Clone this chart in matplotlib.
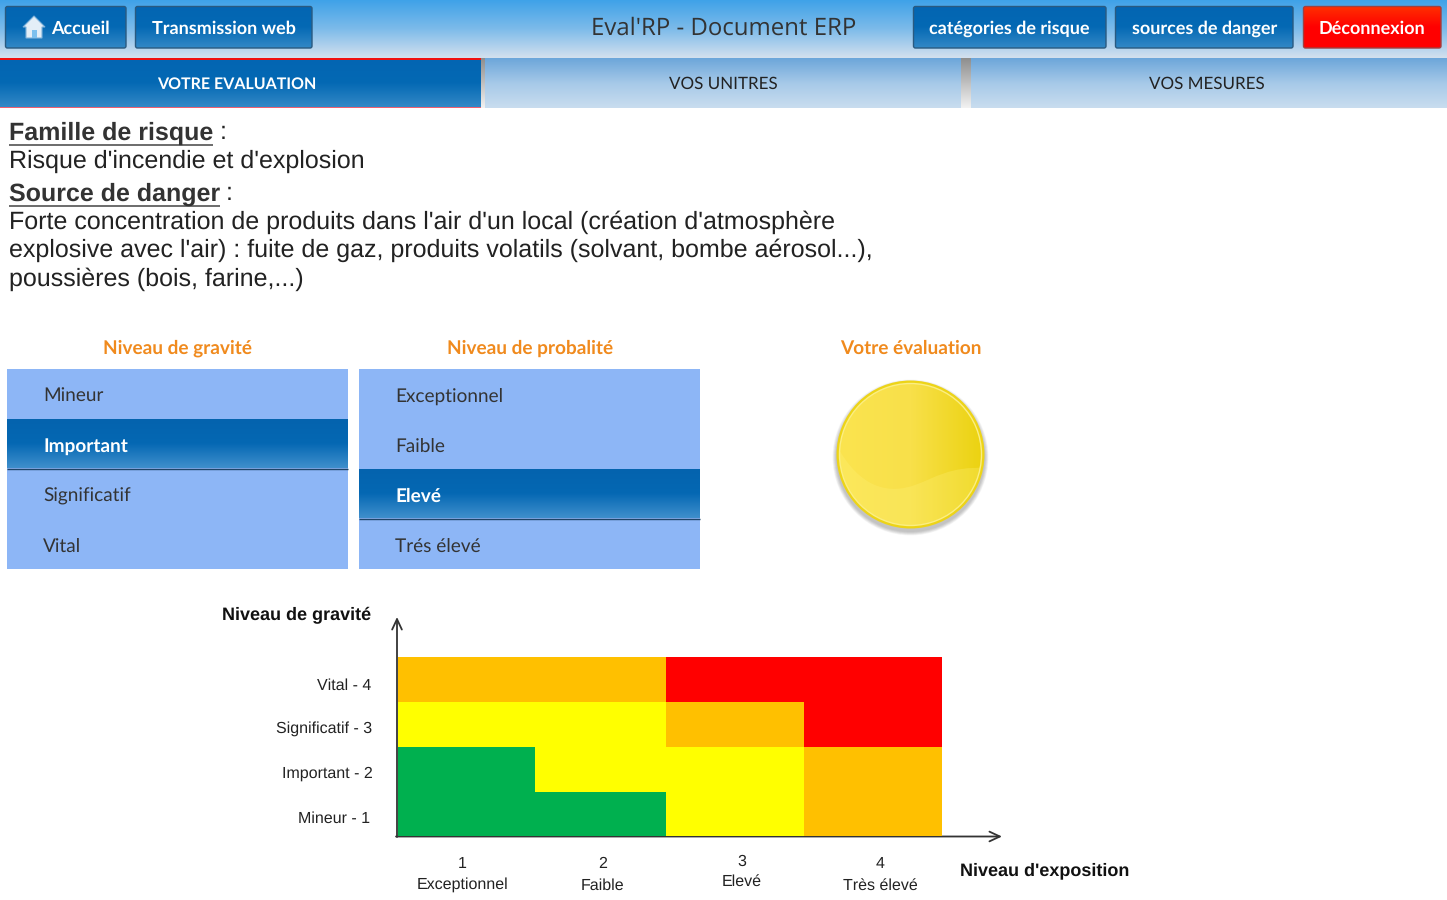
import numpy as np
import matplotlib
matplotlib.use("Agg")
import matplotlib.pyplot as plt
from matplotlib.colors import ListedColormap, LinearSegmentedColormap
from matplotlib.patches import Rectangle, FancyBboxPatch, Circle, Polygon, PathPatch
from matplotlib.path import Path

# ---- data
nav_left = ["Accueil", "Transmission web"]
nav_right = ["catégories de risque", "sources de danger", "Déconnexion"]
page_title = "Eval'RP - Document ERP"
tabs = ["VOTRE EVALUATION", "VOS UNITRES", "VOS MESURES"]
gravity_options = ["Mineur", "Important", "Significatif", "Vital"]
gravity_selected = "Important"
probability_options = ["Exceptionnel", "Faible", "Elevé", "Trés élevé"]
probability_selected = "Elevé"
y_labels = ["Mineur - 1", "Important - 2", "Significatif - 3", "Vital - 4"]
x_numbers = ["1", "2", "3", "4"]
x_names = ["Exceptionnel", "Faible", "Elevé", "Très élevé"]
# risk level per cell, rows from Mineur to Vital, columns from Exceptionnel to Très élevé
risk = [[0, 0, 1, 2],
        [0, 1, 1, 2],
        [1, 1, 2, 3],
        [2, 2, 3, 3]]
risk_colors = ["#00B04F", "#FFFF00", "#FFC000", "#FF0000"]

UI = ["Lato", "DejaVu Sans"]
plt.rcParams["font.family"] = ["Open Sans", "DejaVu Sans"]
plt.rcParams["text.hinting"] = "no_hinting"
plt.rcParams["text.hinting_factor"] = 1
BODY = ["Liberation Sans", "DejaVu Sans"]

fig = plt.figure(figsize=(14.47, 9.0), dpi=100)
bg = fig.add_axes([0, 0, 1, 1])
bg.set_xlim(0, 1447)
bg.set_ylim(900, 0)
bg.axis("off")


def grad(ax, x0, x1, y0, y1, stops, clip=None, z=1, horizontal=False):
    cm = LinearSegmentedColormap.from_list("g", stops)
    g = np.linspace(0, 1, 128)
    g = g[None, :] if horizontal else g[:, None]
    im = ax.imshow(g, cmap=cm, extent=(x0, x1, y1, y0), aspect="auto", zorder=z,
                   vmin=0, vmax=1, interpolation="bilinear")
    if clip is not None:
        im.set_clip_path(clip)
    return im


# header band
grad(bg, 0, 1447, 0, 58, ["#3FA2E8", "#7DBBEA", "#D3E0EE"])
BLUE = ["#0365B2", "#0469B4", "#3388C6"]


def button(x0, x1, label, stops=BLUE, edge="#2A5A80", tx=None):
    y0, y1 = 6.5, 48
    p = FancyBboxPatch((x0, y0), x1 - x0, y1 - y0, boxstyle="round,pad=0,rounding_size=2",
                       fc="none", ec=edge, lw=1.0, zorder=3)
    bg.add_patch(p)
    grad(bg, x0, x1, y0, y1, stops, clip=p, z=2)
    bg.text(tx if tx else (x0 + x1) / 2, 28.5, label, color="white", fontsize=12.8, family=UI,
            fontweight="bold", ha="center", va="center", zorder=4)


button(5.5, 126, nav_left[0], tx=80)
button(135.5, 312, nav_left[1])
button(913.5, 1106, nav_right[0])
button(1115.5, 1293, nav_right[1])
button(1303.5, 1441, nav_right[2], stops=["#FF3000", "#FF0000", "#FF0000"], edge="#A04040")

# home icon
bg.add_patch(Polygon([(23, 27), (34, 16), (45, 27), (42, 27), (42, 38), (26, 38), (26, 27)],
                     closed=True, fc="#E3EEF7", ec="#7FB2DA", lw=0.8, zorder=5))
bg.add_patch(Rectangle((31.5, 30), 5, 8, fc="#7CC0EE", ec="none", zorder=6))

bg.text(723.5, 29, page_title, color="#333333", fontsize=16.95, ha="center", va="center", zorder=4)

# tabs
grad(bg, 0, 481, 59, 107, BLUE)
grad(bg, 481, 961, 58, 108, ["#6CA6DA", "#A6C9E8", "#C9DDEF"])
grad(bg, 961, 1447, 58, 108, ["#6CA6DA", "#A6C9E8", "#C9DDEF"])
grad(bg, 481, 485, 58, 108, ["#8E8E8E", "#F2F2F2"], z=2)
grad(bg, 961, 971, 58, 108, ["#8E8E8E", "#F2F2F2"], z=2)
bg.add_patch(Rectangle((0, 58), 481, 2, fc="#F01010", ec="none", zorder=3))
bg.add_patch(Rectangle((0, 106.5), 481, 1.5, fc="#F06070", ec="none", zorder=3))
for cx, lab, col, w, fs in zip((237, 723, 1207), tabs, ("white", "#222222", "#222222"),
                               ("bold", "normal", "normal"), (11.2, 11.95, 11.95)):
    bg.text(cx, 84.5, lab, color=col, fontsize=fs, fontweight=w, family=UI, ha="center", va="center", zorder=4)

# text block
TXT = "#222222"
def underlined(y, head, rest):
    t = bg.text(9, y, head, fontsize=18, fontweight="bold", family=BODY, color="#333333", va="center")
    r = t.get_window_extent(fig.canvas.get_renderer())
    w = r.width
    bg.plot([9, 9 + w], [y + 12, y + 12], color="#444444", lw=1.1, solid_capstyle="butt")
    bg.text(9 + w + 6, y, rest, fontsize=18, family=BODY, color=TXT, va="center")


underlined(133, "Famille de risque", ":")
bg.text(9, 161.5, "Risque d'incendie et d'explosion", fontsize=18, family=BODY, color=TXT, va="center")
underlined(194, "Source de danger", ":")
for y, s in zip((222.5, 250.5, 279.5), (
        "Forte concentration de produits dans l'air d'un local (création d'atmosphère",
        "explosive avec l'air) : fuite de gaz, produits volatils (solvant, bombe aérosol...),",
        "poussières (bois, farine,...)")):
    bg.text(9, y, s, fontsize=18, family=BODY, color=TXT, va="center")

# section heads
for cx, s in zip((177.5, 530.5, 911), ("Niveau de gravité", "Niveau de probalité", "Votre évaluation")):
    bg.text(cx, 348.5, s, color="#F08A1D", fontsize=13.95, fontweight="bold", family=UI, ha="center", va="center")


# lists
def listbox(x0, x1, options, selected):
    bg.add_patch(Rectangle((x0, 369), x1 - x0, 200, fc="#8DB6F6", ec="none", zorder=1))
    for i, o in enumerate(options):
        y0 = 369 + 50 * i
        on = o == selected
        if on:
            grad(bg, x0, x1, y0 + 0.6, y0 + 49.5, ["#0463AE", "#0568B3", "#3F8FCC"], z=2)
            bg.plot([x0, x1 - 0.5], [y0 + 49.5, y0 + 49.5], color="#1F4468", lw=1, zorder=3, solid_capstyle="butt")
        bg.text(x0 + 36, y0 + 27.8, o, color="white" if on else "#333333", fontsize=14.0, family=UI,
                fontweight="bold" if on else "normal", va="center", zorder=4)


listbox(7, 348, gravity_options, gravity_selected)
listbox(359, 700, probability_options, probability_selected)

# gauge
cx, cy, R = 910.5, 454.5, 74
for k in range(8, 0, -1):
    bg.add_patch(Circle((cx, cy + 3), R + k * 0.5, fc="#000000", alpha=0.03, ec="none", zorder=1))
bg.add_patch(Circle((cx, cy), R, fc="#EDD417", ec="none", zorder=2))
inner = Circle((cx, cy), R - 3, fc="none", ec="#FBEE83", lw=1.0, zorder=5)
bg.add_patch(inner)
grad(bg, cx - R, cx + R, cy - R, cy + R, ["#FBE44F", "#F8E04A", "#EBD20F"], clip=inner, z=3, horizontal=True)
wave = PathPatch(Path([(836, 444), (860, 490), (890, 494), (915, 485), (935, 478), (950, 466), (986, 468),
                       (986, 535), (836, 535), (836, 444)],
                      [Path.MOVETO, Path.CURVE4, Path.CURVE4, Path.CURVE4, Path.CURVE4, Path.CURVE4, Path.CURVE4,
                       Path.LINETO, Path.LINETO, Path.CLOSEPOLY]),
                 fc="#FFF27A", ec="none", alpha=0.28, zorder=4)
bg.add_patch(wave)
wave.set_clip_path(inner)

# risk matrix
x_edges = [0, 137, 268, 406, 544]
y_edges = [0, 44.5, 89.5, 134.5, 179]
ax = fig.add_axes([398.45 / 1447, 1 - 836 / 900, 544 / 1447, 179 / 900])
ax.pcolormesh(x_edges, y_edges, np.array(risk), cmap=ListedColormap(risk_colors), vmin=0, vmax=3)
ax.set_xlim(0, 544)
ax.set_ylim(0, 179)
ax.axis("off")

# axes arrows
arrow = dict(arrowstyle="->,head_length=0.75,head_width=0.35", color="#333333", lw=1.3, shrinkA=0, shrinkB=0)
bg.annotate("", xy=(397, 617), xytext=(397, 837), arrowprops=arrow, zorder=6)
bg.annotate("", xy=(1002, 836.5), xytext=(396, 836.5), arrowprops=arrow, zorder=6)

# axis labels
bg.text(371, 615, "Niveau de gravité", fontsize=12.9, fontweight="bold", family=BODY, color="#111111", ha="right", va="center")
bg.text(960, 871, "Niveau d'exposition", fontsize=13, fontweight="bold", family=BODY, color="#111111", ha="left", va="center")
for y, xr, s in zip((818.5, 773.5, 729, 685.5), (370, 372.5, 372.5, 371), y_labels):
    bg.text(xr, y, s, fontsize=11.85, family=BODY, color="#222222", ha="right", va="center")
for x, y1, y2, n, s in zip((462.5, 603, 742, 880.5), (864, 864, 862, 864), (884.5, 885.5, 881.5, 885.5), x_numbers, x_names):
    bg.text(x, y1, n, fontsize=11.85, family=BODY, color="#222222", ha="center", va="center")
    bg.text(x, y2, s, fontsize=11.85, family=BODY, color="#222222", ha="center", va="center")

fig.savefig("out.png", dpi=100)
